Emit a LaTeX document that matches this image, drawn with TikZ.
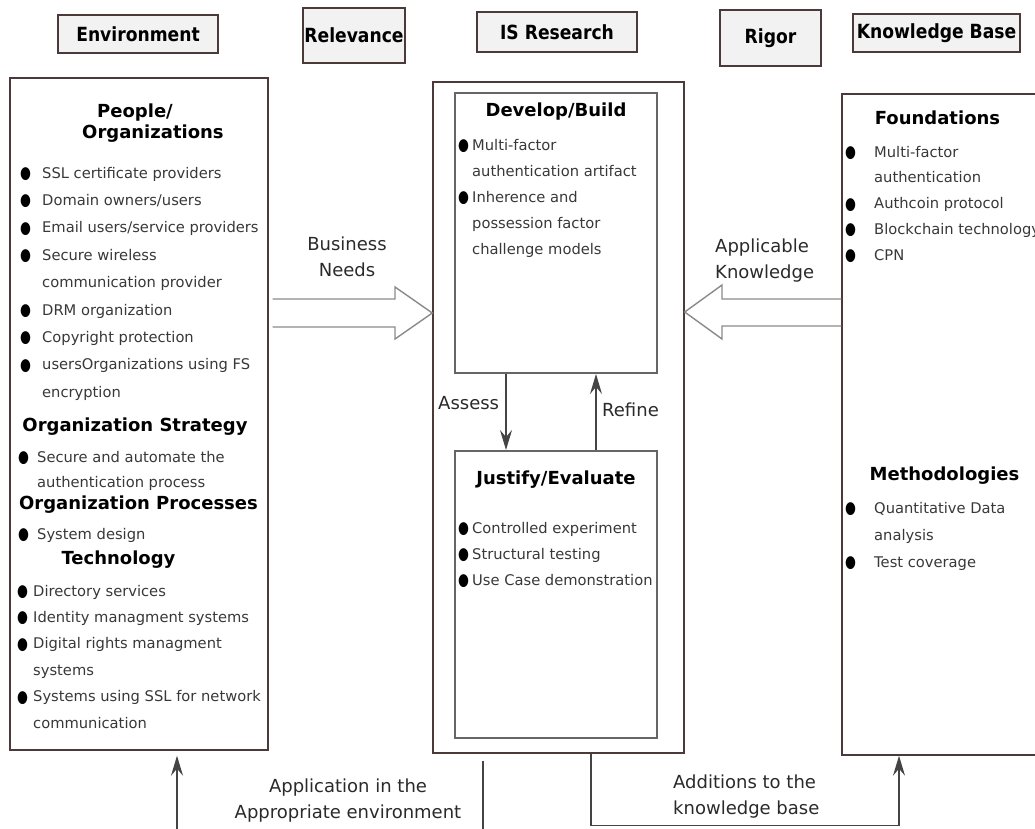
\documentclass[tikz,border=0pt]{standalone}
\usepackage{fontspec}
\setmainfont{DejaVu Sans}
\newfontfamily\hdrfont[FakeStretch=0.88]{DejaVu Sans}
\usepackage{graphicx}
\usepackage{xcolor}
\usepackage{tikz}
\usetikzlibrary{positioning,arrows.meta}

\definecolor{frame}{HTML}{4A3A3A}
\definecolor{inline}{HTML}{666666}
\definecolor{hdrfill}{HTML}{F2F2F2}
\definecolor{txt}{HTML}{383838}
\definecolor{lbltxt}{HTML}{2A2A2A}
\definecolor{flowline}{HTML}{444444}
\definecolor{fatline}{HTML}{8A8A8A}

\newlength{\bw}
\newcommand{\dotb}{\raisebox{-0.5pt}{\textcolor{black}{\scalebox{0.85}[1.15]{●}}}}
\newcommand{\itm}[1]{\makebox[\bw][l]{\dotb}#1}
\newcommand{\cnt}[1]{\hspace*{\bw}#1}

\begin{document}
\begin{tikzpicture}[
    x=1pt, y=-1pt,
    >={Stealth[length=20pt,width=12pt,inset=7pt]},
    hdr/.style={rectangle, draw=frame, fill=hdrfill, line width=1.8pt, inner sep=0pt, font=\hdrfont\bfseries\fontsize{19.5}{22}\selectfont},
    panel/.style={rectangle, draw=frame, line width=1.4pt, inner sep=0pt},
    inbox/.style={rectangle, draw=inline, line width=2pt, inner sep=0pt},
    head/.style={anchor=base, inner sep=0pt, font=\bfseries\fontsize{18}{20.5}\selectfont},
    items/.style 2 args={anchor=base west, inner sep=0pt, align=left, text=txt, font=\fontsize{14.7}{#1}\selectfont\setlength{\bw}{#2}},
    lbl/.style={inner sep=0pt, text=lbltxt, font=\fontsize{18}{26.5}\selectfont},
    flow/.style={->, line width=1.4pt, draw=flowline},
    plain/.style={line width=1.4pt, draw=flowline},
    fat/.style={line width=1.4pt, draw=fatline}
]
\useasboundingbox (0,0) rectangle (1035,828);

% Top row: column titles
\node[hdr, minimum width=160, minimum height=38] (envh) at (138,34) {Environment};
\node[hdr, minimum width=102, minimum height=55] (relh) at (354,35.5) {Relevance};
\node[hdr, minimum width=160, minimum height=40] (isrh) at (557,32) {IS Research};
\node[hdr, minimum width=101, minimum height=56] (righ) at (770.5,38) {Rigor};
\node[hdr, minimum width=167, minimum height=38] (kbh) at (936.5,33) {Knowledge Base};

% Main panels
\node[panel, minimum width=258, minimum height=672] (env) at (139,414) {};
\node[panel, minimum width=251, minimum height=671] (isr) at (558.5,417.5) {};
\node[inbox, minimum width=202, minimum height=280] (dev) at (556,233) {};
\node[inbox, minimum width=202, minimum height=287, below=76pt of dev] (jus) {};
\node[panel, minimum width=210, minimum height=661] (kbase) at (947,424.5) {};

% Environment contents (multi-line nodes sit on the baseline of their last line)
\node[head, anchor=base west, align=left] (pplh) at (82,138) {\hspace*{15pt}People/\\Organizations};
\node[items={27.4}{22pt}] (ppll) at (20,397.2) {\itm{SSL certificate providers}\\\itm{Domain owners/users}\\\itm{Email users/service providers}\\\itm{Secure wireless}\\\cnt{communication provider}\\\itm{DRM organization}\\\itm{Copyright protection}\\\itm{usersOrganizations using FS}\\\cnt{encryption}};
\node[head] (strh) at (135,431.5) {Organization Strategy};
\node[items={25}{19pt}] (strl) at (18,487) {\itm{Secure and automate the}\\\cnt{authentication process}};
\node[head] (proh) at (138.5,509.5) {Organization Processes};
\node[items={25}{19pt}] (prol) at (18,539) {\itm{System design}};
\node[head] (tech) at (118.5,564.5) {Technology};
\node[items={26.4}{16pt}] (tecl) at (17,728) {\itm{Directory services}\\\itm{Identity managment systems}\\\itm{Digital rights managment}\\\cnt{systems}\\\itm{Systems using SSL for network}\\\cnt{communication}};

% IS Research contents
\node[head] (devh) at (556,116.5) {Develop/Build};
\node[items={26.2}{14pt}] (devl) at (458,254.8) {\itm{Multi-factor}\\\cnt{authentication artifact}\\\itm{Inherence and}\\\cnt{possession factor}\\\cnt{challenge models}};
\node[head] (jush) at (556,484.5) {Justify/Evaluate};
\node[items={26}{14pt}] (jusl) at (458,585) {\itm{Controlled experiment}\\\itm{Structural testing}\\\itm{Use Case demonstration}};

% Knowledge base contents
\node[head] (fndh) at (937.5,124.5) {Foundations};
\node[items={25.75}{29pt}] (fndl) at (845,260) {\itm{Multi-factor}\\\cnt{authentication}\\\itm{Authcoin protocol}\\\itm{Blockchain technology}\\\itm{CPN}};
\node[head] (meth) at (944.5,480.5) {Methodologies};
\node[items={27}{29pt}] (metl) at (845,567) {\itm{Quantitative Data}\\\cnt{analysis}\\\itm{Test coverage}};

% Labels
\node[lbl, align=center, anchor=base] (bneeds) at (347,276.5) {Business\\Needs};
\node[lbl, align=left, anchor=base west] (aknow) at (715,278.5) {Applicable\\Knowledge};
\node[lbl, anchor=base west] (assess) at (438,409) {Assess};
\node[lbl, anchor=base west] (refine) at (602,416) {Refine};
\node[lbl, align=center, anchor=base] (appl) at (348,818.5) {Application in the\\Appropriate environment};
\node[lbl, align=left, anchor=base west] (addk) at (673,814.5) {Additions to the\\knowledge base};

% === Arrows ===

% Block arrows into IS Research
\coordinate (bn) at ([xshift=4pt]env.east);
\draw[fat] (bn |- 0,299) -- (395,299) -- (395,287) -- (isr.west |- 0,313) -- (395,339) -- (395,327) -- (bn |- 0,327);
\draw[fat] (kbase.west |- 0,299) -- (722,299) -- (722,285) -- (isr.east |- 0,312) -- (722,339) -- (722,326) -- (kbase.west |- 0,326);

% Assess / Refine loop
\draw[flow] ([xshift=-50pt]dev.south) -- ([xshift=-50pt]jus.north);
\draw[flow] ([xshift=40pt]jus.north) -- ([xshift=40pt]dev.south);

% Bottom: back to environment, on to knowledge base
\coordinate (envin) at ([xshift=38pt,yshift=-5pt]env.south);
\draw[flow] (envin |- 0,850) -- (envin);
\coordinate (aptop) at ([xshift=-75.5pt,yshift=-7pt]isr.south);
\draw[plain] (aptop) -- ++(0,90);
\draw[flow] ([xshift=32.5pt]isr.south) -- ++(0,72) -| ([xshift=-48pt]kbase.south);

\end{tikzpicture}
\end{document}
